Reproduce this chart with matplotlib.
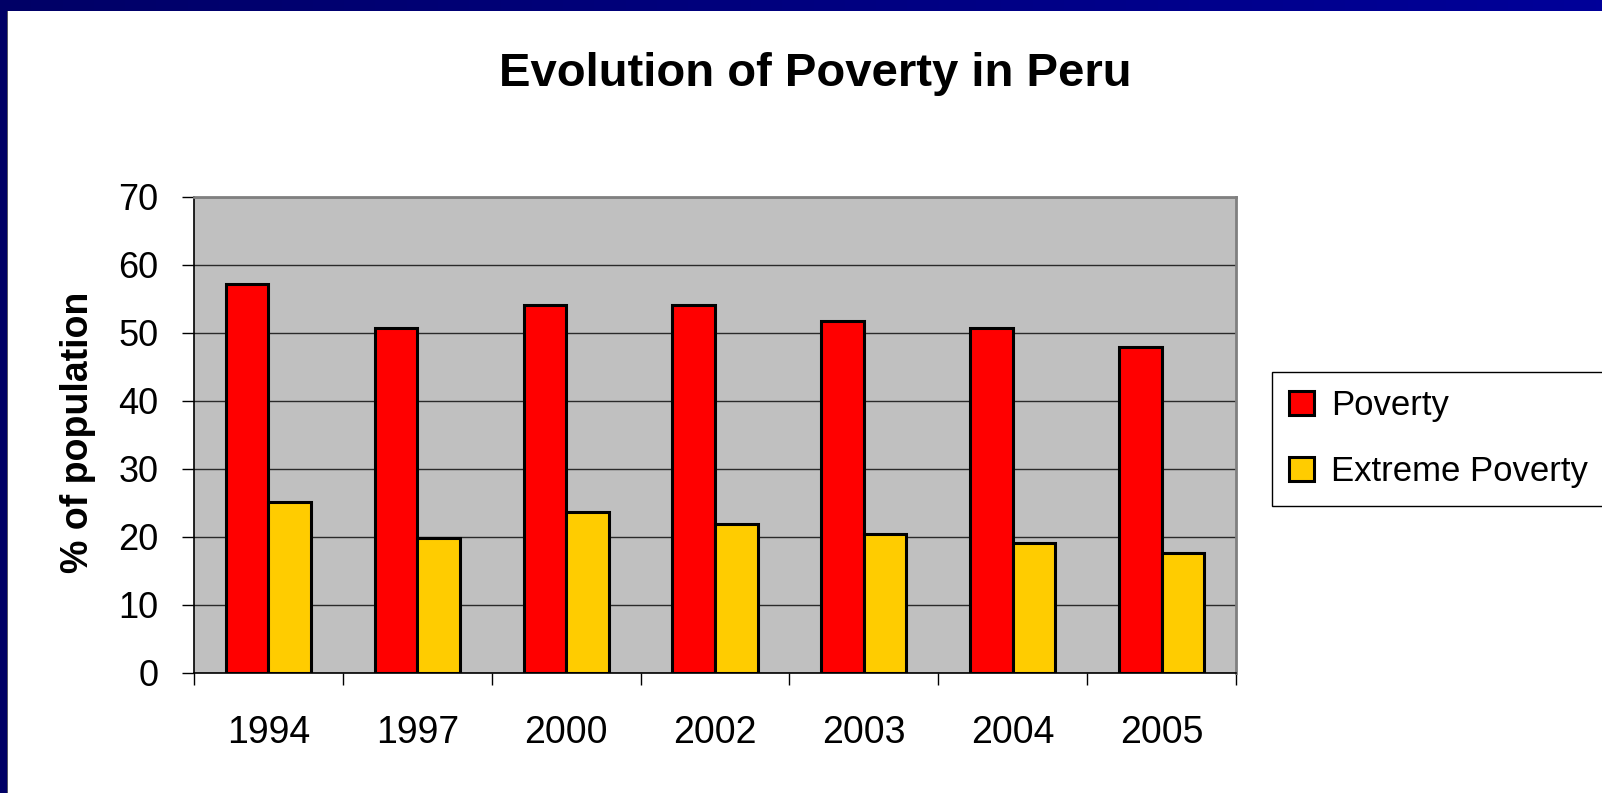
# Evolution of Poverty in Peru - grouped bar chart

import numpy as np
import matplotlib
matplotlib.use('Agg')
import matplotlib.pyplot as plt
from matplotlib.colors import LinearSegmentedColormap
from matplotlib.patches import Rectangle

years = ['1994', '1997', '2000', '2002', '2003', '2004', '2005']
poverty = [57.2, 50.7, 54.1, 54.1, 51.7, 50.8, 48.0]
extreme_poverty = [25.1, 19.9, 23.7, 21.9, 20.5, 19.1, 17.7]
y_ticks = [0, 10, 20, 30, 40, 50, 60, 70]

plt.rcParams['font.family'] = ['Liberation Sans', 'DejaVu Sans']

W, H = 1602, 793
fig = plt.figure(figsize=(W / 100, H / 100), dpi=100)
fig.patch.set_facecolor('white')

# Slide frame (navy band at top and left)
band = fig.add_axes([0, 1 - 11 / H, 1, 11 / H])
band.imshow(np.linspace(0, 1, 256).reshape(1, -1), aspect='auto',
            cmap=LinearSegmentedColormap.from_list('navy', ['#000066', '#000099']))
band.axis('off')
fig.patches.append(Rectangle((0, 0), 7 / W, 1, transform=fig.transFigure,
                             facecolor='#000066', edgecolor='none', zorder=0))
fig.patches.append(Rectangle((7 / W, 0), 1 / W, 1 - 11 / H, transform=fig.transFigure,
                             facecolor='#555566', edgecolor='none', zorder=0))

# Plot area
ax = fig.add_axes([194 / W, 1 - 673 / H, (1236 - 194) / W, (673 - 197) / H])
ax.set_facecolor('#C0C0C0')

x = np.arange(len(years))
w = 1 / 3.5
ax.bar(x - w / 2, poverty, w, color='#FF0000', edgecolor='black', linewidth=2.2,
       label='Poverty', zorder=3)
ax.bar(x + w / 2, extreme_poverty, w, color='#FFCC00', edgecolor='black', linewidth=2.2,
       label='Extreme Poverty', zorder=3)

ax.set_xlim(-0.5, len(years) - 0.5)
ax.set_ylim(0, 70)
ax.set_yticks(y_ticks)
ax.set_yticklabels([str(t) for t in y_ticks], fontsize=26)
ax.yaxis.grid(True, color='#2a2a2a', linewidth=1.0, zorder=0)
ax.set_axisbelow(True)

ax.set_xticks(x)
ax.set_xticklabels(years, fontsize=27)
ax.set_xticks(np.arange(-0.5, len(years)), minor=True)
ax.tick_params(axis='x', which='major', length=0, pad=30)
ax.tick_params(axis='x', which='minor', length=8.6, width=1.0, direction='out', color='black')
ax.tick_params(axis='y', length=8.6, width=1.0, direction='out', pad=17, color='black')

for side in ['left', 'bottom']:
    ax.spines[side].set_color('black')
    ax.spines[side].set_linewidth(1.2)
for side in ['top', 'right']:
    ax.spines[side].set_color('#808080')
    ax.spines[side].set_linewidth(2)

# Titles
fig.text(815 / W, 1 - 86 / H, 'Evolution of Poverty in Peru', fontsize=34,
         fontweight='bold', ha='center', va='baseline')
fig.text(78 / W, 1 - 432 / H, '% of population', fontsize=27, fontweight='bold',
         rotation=90, ha='center', va='center')

# Legend
leg = fig.legend(loc='upper left', bbox_to_anchor=(1272 / W, 1 - 372 / H),
                 bbox_transform=fig.transFigure, fontsize=25, frameon=True,
                 fancybox=False, shadow=False, borderaxespad=0, borderpad=0.5,
                 handlelength=0.7, handleheight=0.7, handletextpad=0.5,
                 labelspacing=0.95)
leg.get_frame().set_edgecolor('black')
leg.get_frame().set_linewidth(1.0)
leg.get_frame().set_alpha(1)
for h in leg.legend_handles:
    h.set_linewidth(2.2)

plt.savefig('out.png', dpi=100)
